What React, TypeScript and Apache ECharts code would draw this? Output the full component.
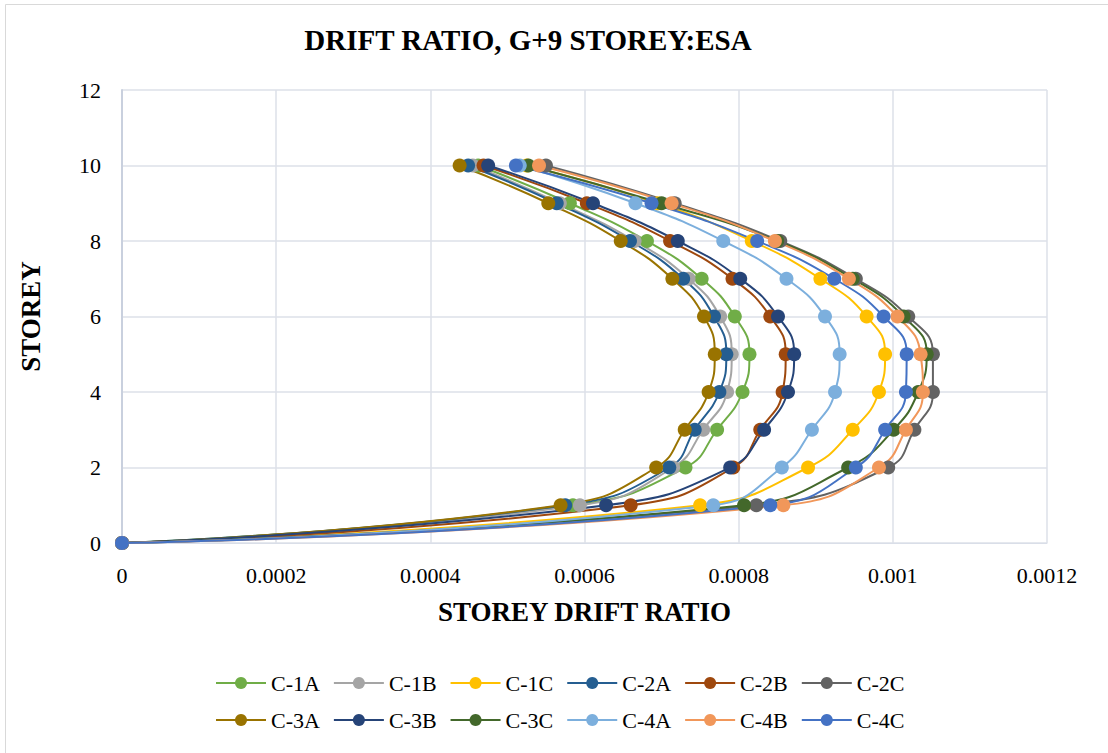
import React, { useEffect, useRef } from "react";
import * as echarts from "echarts";

const storeys = [0, 1, 2, 3, 4, 5, 6, 7, 8, 9, 10];
const seriesNames = ["C-1A", "C-1B", "C-1C", "C-2A", "C-2B", "C-2C", "C-3A", "C-3B", "C-3C", "C-4A", "C-4B", "C-4C"];
const seriesColors = ["#70AD47", "#A5A5A5", "#FFC000", "#255E91", "#9E480E", "#636363", "#997300", "#264478", "#43682B", "#7CAFDD", "#F1975A", "#4472C4"];

const c1a = [0, 0.000585, 0.000731, 0.000772, 0.000805, 0.000814, 0.000795, 0.000752, 0.000681, 0.000581, 0.000462];
const c1b = [0, 0.000594, 0.000715, 0.000754, 0.000785, 0.000791, 0.000776, 0.000735, 0.000665, 0.000568, 0.000455];
const c1c = [0, 0.00075, 0.00089, 0.000948, 0.000982, 0.00099, 0.000966, 0.000906, 0.000817, 0.000695, 0.000525];
const c2a = [0, 0.000575, 0.00071, 0.000743, 0.000775, 0.000784, 0.000768, 0.000728, 0.000659, 0.000564, 0.000449];
const c2b = [0, 0.00066, 0.000793, 0.000828, 0.000857, 0.000861, 0.000841, 0.000792, 0.000711, 0.000603, 0.000469];
const c2c = [0, 0.000823, 0.000994, 0.001028, 0.001052, 0.001052, 0.00102, 0.000952, 0.000854, 0.000717, 0.00055];
const c3a = [0, 0.000569, 0.000693, 0.00073, 0.000761, 0.000769, 0.000755, 0.000714, 0.000647, 0.000553, 0.000438];
const c3b = [0, 0.000628, 0.000789, 0.000833, 0.000864, 0.000872, 0.000851, 0.000802, 0.000721, 0.000611, 0.000475];
const c3c = [0, 0.000807, 0.000942, 0.001001, 0.001033, 0.001044, 0.001014, 0.000948, 0.00085, 0.0007, 0.000527];
const c4a = [0, 0.000767, 0.000856, 0.000895, 0.000925, 0.000931, 0.000912, 0.000862, 0.00078, 0.000666, 0.000516];
const c4b = [0, 0.000858, 0.000982, 0.001017, 0.001039, 0.001036, 0.001006, 0.000943, 0.000847, 0.000713, 0.000541];
const c4c = [0, 0.000841, 0.000952, 0.00099, 0.001017, 0.001018, 0.000988, 0.000924, 0.000824, 0.000687, 0.000511];

const seriesValues = [c1a, c1b, c1c, c2a, c2b, c2c, c3a, c3b, c3c, c4a, c4b, c4c];
const xTickLabels = ["0", "0.0002", "0.0004", "0.0006", "0.0008", "0.001", "0.0012"];

const FONT = "'Liberation Serif', 'Times New Roman', serif";

export default function App() {
  const ref = useRef<HTMLDivElement>(null);
  useEffect(() => {
    if (!ref.current) return;
    const chart = echarts.init(ref.current, null, { renderer: "svg" });
    const series = seriesNames.map((name, i) => ({
      name,
      type: "line",
      smooth: 0.5,
      symbol: "circle",
      symbolSize: 14,
      lineStyle: { width: 2, color: seriesColors[i] },
      itemStyle: { color: seriesColors[i] },
      data: seriesValues[i].map((v, k) => [v, storeys[k]]),
    }));
    const legendCommon = {
      left: 210,
      itemWidth: 50,
      itemHeight: 15,
      itemGap: 13,
      textStyle: { fontFamily: FONT, fontSize: 22, color: "#000" },
    };
    chart.setOption({
      animation: false,
      backgroundColor: "#fff",
      title: {
        text: "DRIFT RATIO, G+9 STOREY:ESA",
        left: 523,
        textAlign: "center",
        top: 20,
        textStyle: { fontFamily: FONT, fontSize: 29, fontWeight: "bold", color: "#000" },
      },
      graphic: [
        {
          type: "rect",
          shape: { x: 5.5, y: 4.5, width: 1110, height: 760 },
          style: { fill: "none", stroke: "#D9D9D9", lineWidth: 1 },
          silent: true,
        },
      ],
      legend: [
        { ...legendCommon, top: 667, data: seriesNames.slice(0, 6) },
        { ...legendCommon, top: 704, data: seriesNames.slice(6) },
      ],
      grid: { left: 122, right: 61, top: 90, bottom: 210, containLabel: false },
      xAxis: {
        type: "value",
        min: 0,
        max: 0.0012,
        interval: 0.0002,
        name: "STOREY DRIFT RATIO",
        nameLocation: "middle",
        nameGap: 55,
        nameTextStyle: { fontFamily: FONT, fontSize: 27, fontWeight: "bold", color: "#000" },
        axisLine: { show: true, lineStyle: { color: "#D9DEE8", width: 1 } },
        axisTick: { show: false },
        axisLabel: {
          margin: 21,
          fontFamily: FONT,
          fontSize: 22,
          color: "#000",
          formatter: (v: number) => xTickLabels[Math.round(v / 0.0002)] ?? "",
        },
        splitLine: { show: true, lineStyle: { color: "#DDE1E8", width: 1.5 } },
      },
      yAxis: {
        type: "value",
        min: 0,
        max: 12,
        interval: 2,
        name: "STOREY",
        nameLocation: "middle",
        nameGap: 78,
        nameTextStyle: { fontFamily: FONT, fontSize: 27, fontWeight: "bold", color: "#000" },
        axisLine: { show: true, lineStyle: { color: "#C9D0DE", width: 2 } },
        axisTick: { show: false },
        axisLabel: { margin: 21, fontFamily: FONT, fontSize: 22, color: "#000" },
        splitLine: { show: true, lineStyle: { color: "#DDE1E8", width: 1.5 } },
      },
      series,
    });
    return () => chart.dispose();
  }, []);
  return (
    <div
      ref={ref}
      style={{ position: "fixed", left: 0, top: 0, width: 1108, height: 753, background: "#fff" }}
    />
  );
}
